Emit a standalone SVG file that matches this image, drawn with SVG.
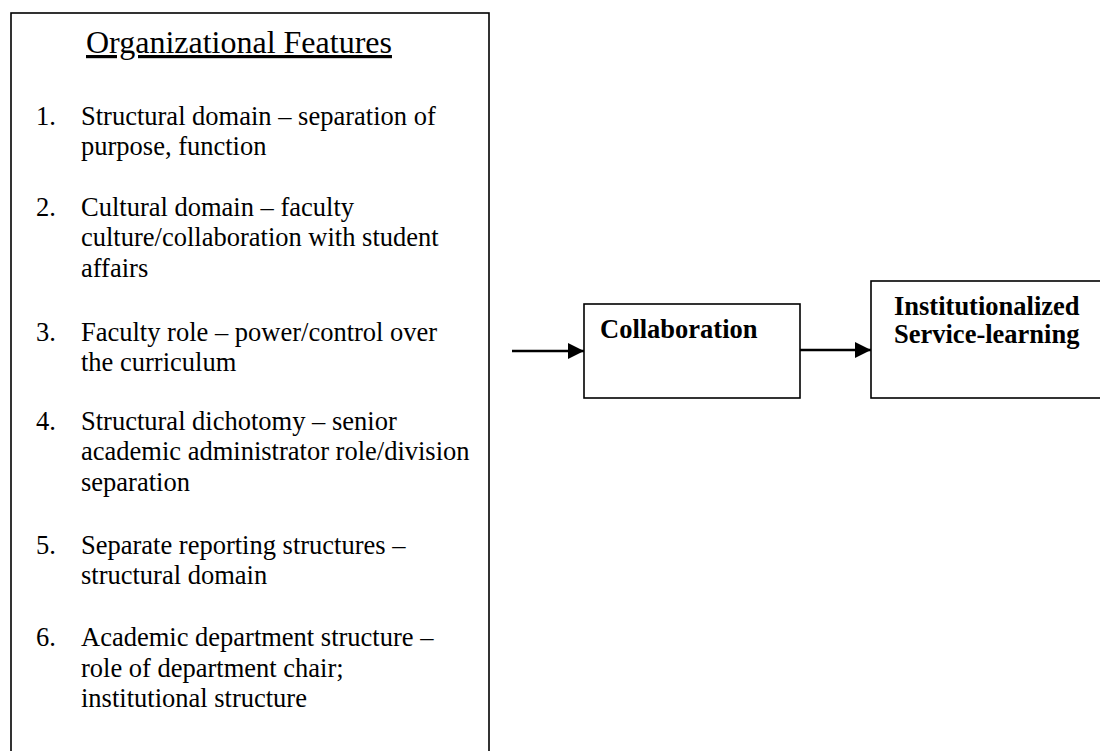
<svg xmlns="http://www.w3.org/2000/svg" width="1100" height="751" viewBox="0 0 1100 751">
<style>
.box{fill:#fff;stroke:#000;stroke-width:1.6}
.t{font-family:"Liberation Serif","Times New Roman",serif;font-size:26.5px;fill:#000}
.b{font-family:"Liberation Serif","Times New Roman",serif;font-size:26.5px;font-weight:bold;fill:#000}
.title{font-family:"Liberation Serif","Times New Roman",serif;font-size:32px;fill:#000;text-decoration:underline}
.conn{stroke:#000;stroke-width:2.5;fill:none}
</style>
<defs>
<marker id="ah" markerUnits="userSpaceOnUse" markerWidth="16" markerHeight="16" refX="16" refY="8" orient="auto">
<path d="M0,0 L16,8 L0,16 Z" fill="#000"/>
</marker>
</defs>
<rect width="1100" height="751" fill="#fff"/>
<g id="features">
<rect class="box" x="11" y="13" width="478" height="760"/>
<text class="title" x="86" y="53">Organizational Features</text>
<text class="t" x="36" y="125">1.</text>
<text class="t" x="81" y="125">Structural domain – separation of</text>
<text class="t" x="81" y="155.4">purpose, function</text>
<text class="t" x="36" y="216">2.</text>
<text class="t" x="81" y="216">Cultural domain – faculty</text>
<text class="t" x="81" y="246.4">culture/collaboration with student</text>
<text class="t" x="81" y="276.8">affairs</text>
<text class="t" x="36" y="341">3.</text>
<text class="t" x="81" y="341">Faculty role – power/control over</text>
<text class="t" x="81" y="371.4">the curriculum</text>
<text class="t" x="36" y="430">4.</text>
<text class="t" x="81" y="430">Structural dichotomy – senior</text>
<text class="t" x="81" y="460.4">academic administrator role/division</text>
<text class="t" x="81" y="490.8">separation</text>
<text class="t" x="36" y="554">5.</text>
<text class="t" x="81" y="554">Separate reporting structures –</text>
<text class="t" x="81" y="584.4">structural domain</text>
<text class="t" x="36" y="646.3">6.</text>
<text class="t" x="81" y="646.3">Academic department structure –</text>
<text class="t" x="81" y="676.7">role of department chair;</text>
<text class="t" x="81" y="707.1">institutional structure</text>
</g>
<g id="collaboration">
<rect class="box" x="584" y="304" width="216" height="94"/>
<text class="b" x="600" y="338">Collaboration</text>
</g>
<g id="institutionalized">
<rect class="box" x="871" y="281" width="240" height="117"/>
<text class="b" x="894" y="315">Institutionalized</text>
<text class="b" x="894" y="343">Service-learning</text>
</g>
<g id="connectors">
<line class="conn" x1="512" y1="351" x2="584" y2="351" marker-end="url(#ah)"/>
<line class="conn" x1="800" y1="350" x2="871" y2="350" marker-end="url(#ah)"/>
</g>
</svg>
